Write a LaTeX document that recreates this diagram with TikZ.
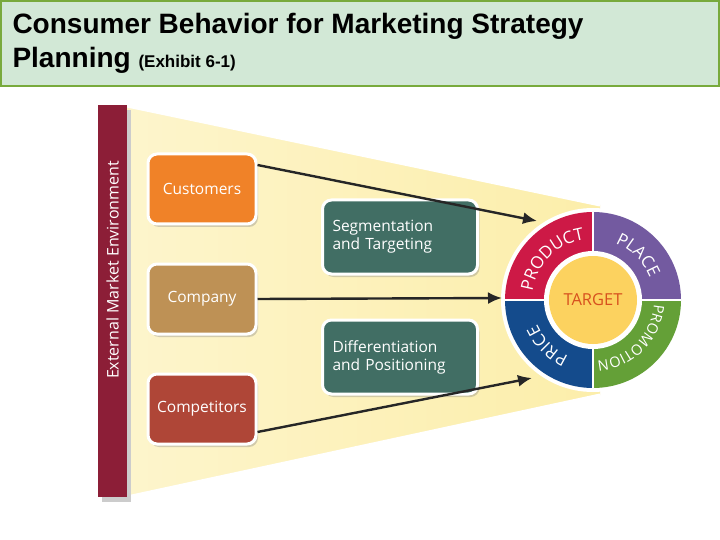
\documentclass[tikz,border=0pt]{standalone}
\usepackage{fontspec}
\setmainfont{Liberation Sans}
\newfontfamily\boxfont{Open Sans}
\usetikzlibrary{decorations.text,arrows.meta,shadows}
\definecolor{titlebg}{RGB}{210,232,214}
\definecolor{titleborder}{RGB}{120,170,60}
\definecolor{barred}{RGB}{140,30,55}
\definecolor{fanY}{RGB}{252,238,170}
\definecolor{custC}{RGB}{240,130,40}
\definecolor{compC}{RGB}{190,145,85}
\definecolor{competC}{RGB}{175,70,55}
\definecolor{tealC}{RGB}{65,110,100}
\definecolor{prodC}{RGB}{205,25,70}
\definecolor{placeC}{RGB}{115,90,160}
\definecolor{promoC}{RGB}{100,160,55}
\definecolor{priceC}{RGB}{20,75,140}
\definecolor{targC}{RGB}{252,210,95}
\definecolor{targT}{RGB}{215,80,30}
\tikzset{
 sbox/.style={draw=white,line width=3pt,rounded corners=9pt,minimum width=108pt,minimum height=70pt,font=\boxfont\fontsize{15.5}{18}\selectfont,text=white,drop shadow={shadow xshift=2pt,shadow yshift=-3pt,opacity=0.35}},
 tbox/.style={draw=white,line width=3pt,rounded corners=9pt,minimum width=155pt,minimum height=74pt,align=left,font=\boxfont\fontsize{15.5}{18}\selectfont,text=white,fill=tealC,drop shadow={shadow xshift=2pt,shadow yshift=-3pt,opacity=0.35},text width=135pt},
 arr/.style={line width=2.4pt,-{Latex[length=14pt,width=12pt]},black!85},
 wtext/.style={decorate,decoration={text along path,text align=center,text={|\boxfont\fontsize{17}{18}\selectfont\color{white}|#1}}},
 wtexts/.style={decorate,decoration={text along path,text align=center,text={|\boxfont\fontsize{14.5}{18}\selectfont\color{white}|#1}}}
}
\begin{document}
\begin{tikzpicture}[x=1pt,y=-1pt]
\useasboundingbox (0,0) rectangle (720,540);
\fill[white] (0,0) rectangle (720,540);
% title
\draw[titleborder,fill=titlebg,line width=2pt] (1,1) rectangle (719,86);
\node[anchor=west,font=\bfseries\fontsize{28}{34}\selectfont,align=left] (title) at (9,43) {Consumer Behavior for Marketing Strategy\\Planning {\fontsize{17}{18}\selectfont(Exhibit 6-1)}};
% fan
\shade[left color=fanY!60,right color=fanY] (127,106) -- (600,205) -- (600,395) -- (127,497) -- cycle;
\draw[white,line width=3pt] (127,106) -- (600,205);
\draw[white,line width=3pt] (127,497) -- (600,395);
% bar
\fill[black!20] (102,110) rectangle (131,502);
\fill[barred] (98,105) rectangle (127,497);
\node[rotate=90,text=white,font=\boxfont\fontsize{16}{18}\selectfont] (env) at (112.5,270) {External Market Environment};
% boxes
\node[sbox,fill=custC] (cust) at (202,189) {Customers};
\node[sbox,fill=compC] (comp) at (202,299) {Company};
\node[sbox,fill=competC] (compet) at (202,409) {Competitors};
\node[tbox] (seg) at (400,237) {Segmentation\\and Targeting};
\node[tbox] (diff) at (400,357) {Differentiation\\and Positioning};
% wheel
\begin{scope}[shift={(593,300)},x=1pt,y=1pt]
\fill[white] (0,0) circle (92);
\fill[prodC] (0,0) -- (180:88) arc (180:90:88) -- cycle;
\fill[placeC] (0,0) -- (90:88) arc (90:0:88) -- cycle;
\fill[promoC] (0,0) -- (0:88) arc (0:-90:88) -- cycle;
\fill[priceC] (0,0) -- (270:88) arc (270:180:88) -- cycle;
\draw[white,line width=1.5pt] (-88,0) -- (88,0) (0,-88) -- (0,88);
\fill[white] (0,0) circle (49);
\path[wtext=PRODUCT] (175:61) arc (175:95:61);
\path[wtext=PLACE] (85:61) arc (85:5:61);
\path[wtexts=PROMOTION] (-3:61) arc (-3:-87:61);
\path[wtext=PRICE] (-95:61) arc (-95:-175:61);
\end{scope}
\node[circle,fill=targC,minimum size=88pt,inner sep=0pt,text=targT,font=\boxfont\fontsize{16.5}{18}\selectfont] (target) at (593,300) {TARGET};
% arrows
\coordinate (a1) at (537,221);
\coordinate (a2) at (502,298);
\coordinate (a3) at (532,378);
\draw[arr] (cust.east |- 0,165) -- (a1);
\draw[arr] (comp.east) -- (a2);
\draw[arr] (compet.east |- 0,432) -- (a3);
\end{tikzpicture}
\end{document}
